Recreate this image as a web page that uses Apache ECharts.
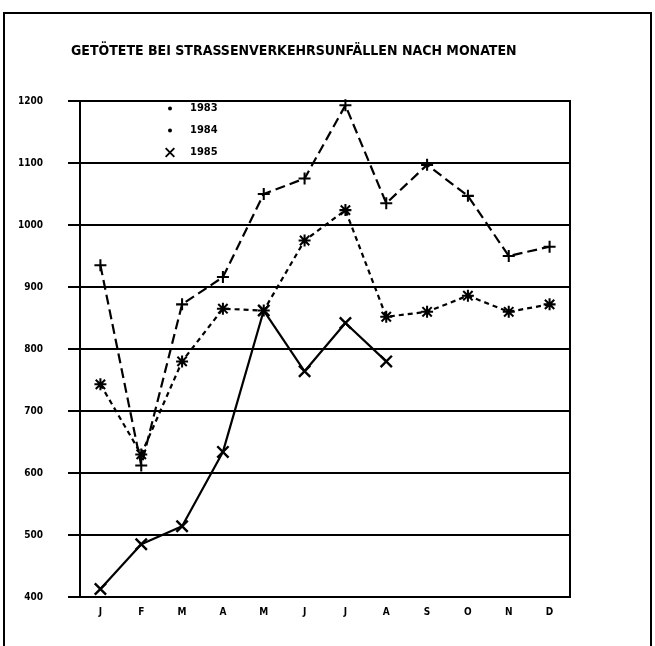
<!DOCTYPE html>
<html>
<head>
<meta charset="utf-8">
<script src="https://cdn.jsdelivr.net/npm/echarts@6/dist/echarts.min.js"></script>
<style>
  html, body { margin: 0; padding: 0; background: #fff; }
  #chart { width: 655px; height: 646px; }
</style>
</head>
<body>
<div id="chart"></div>
<script>
const months = ["J", "F", "M", "A", "M", "J", "J", "A", "S", "O", "N", "D"];
const yTicks = [400, 500, 600, 700, 800, 900, 1000, 1100, 1200];

// values
const y1983 = [935, 612, 872, 916, 1050, 1075, 1193, 1035, 1097, 1047, 950, 965];
const y1984 = [743, 630, 780, 865, 862, 975, 1024, 852, 860, 886, 860, 872];
const y1985 = [413, 485, 514, 634, 862, 764, 842, 780, null, null, null, null];

const plusPath = "path://M8.3,0H11.7V20H8.3Z M0,8.3H20V11.7H0Z";
const crossPath = "path://M0.8,3.2L3.2,0.8L19.2,16.8L16.8,19.2Z M16.8,0.8L19.2,3.2L3.2,19.2L0.8,16.8Z";
const starPath = "path://M8.3,0H11.7V20H8.3Z M0,8.3H20V11.7H0Z M1,3.4L3.4,1L19,16.6L16.6,19Z M16.6,1L19,3.4L3.4,19L1,16.6Z";
// small dot kept small inside a full size box
const dotPath = "path://M0,0L0.01,0L0,0.01Z M10,10L9.99,10L10,9.99Z M5,3A2,2 0 1 1 5,7A2,2 0 1 1 5,3Z";

const font = "'DejaVu Sans Condensed', 'DejaVu Sans', sans-serif";

const myChart = echarts.init(document.getElementById("chart"));

const option = {
  backgroundColor: "#fff",
  animation: false,
  title: {
    text: "GETÖTETE BEI STRASSENVERKEHRSUNFÄLLEN NACH MONATEN",
    left: 66,
    top: 39,
    textStyle: { fontFamily: font, fontWeight: "bold", fontSize: 14, color: "#000" }
  },
  legend: {
    orient: "vertical",
    left: 160,
    top: 98,
    itemGap: 11,
    itemWidth: 10,
    itemHeight: 10,
    textStyle: { fontFamily: font, fontWeight: "bold", fontSize: 11, color: "#000", padding: [0, 0, 0, 10] },
    data: [
      { name: "1983", icon: dotPath },
      { name: "1984", icon: dotPath },
      { name: "1985", icon: crossPath }
    ]
  },
  graphic: [
    {
      type: "rect",
      shape: { x: 4, y: 13, width: 647, height: 700 },
      style: { fill: "none", stroke: "#000", lineWidth: 2 },
      silent: true
    }
  ],
  grid: {
    left: 80,
    right: 85,
    top: 101,
    bottom: 49,
    show: true,
    borderColor: "#000",
    borderWidth: 2,
    backgroundColor: "transparent"
  },
  xAxis: {
    type: "category",
    data: months,
    boundaryGap: true,
    axisLine: { lineStyle: { color: "#000", width: 2 } },
    axisTick: { alignWithLabel: true, length: 7, lineStyle: { color: "#000", width: 2 } },
    axisLabel: { fontFamily: font, fontWeight: "bold", fontSize: 10, color: "#000", margin: 10 }
  },
  yAxis: {
    type: "value",
    min: 400,
    max: 1200,
    interval: 100,
    axisLine: { show: true, lineStyle: { color: "#000", width: 2 } },
    axisTick: { show: true, length: 12, lineStyle: { color: "#000", width: 2 } },
    axisLabel: {
      fontFamily: font, fontWeight: "bold", fontSize: 10, color: "#000", margin: 37,
      formatter: (v) => (yTicks.includes(v) ? String(v) : "")
    },
    splitLine: { show: true, lineStyle: { color: "#000", width: 2 } }
  },
  series: [
    {
      name: "1983",
      type: "line",
      data: y1983,
      symbol: plusPath,
      symbolSize: 12,
      itemStyle: { color: "#000", borderWidth: 0 },
      lineStyle: { color: "#000", width: 2.2, type: [10, 5] }
    },
    {
      name: "1984",
      type: "line",
      data: y1984,
      symbol: starPath,
      symbolSize: 12,
      itemStyle: { color: "#000", borderWidth: 0 },
      lineStyle: { color: "#000", width: 2.2, type: [5, 4] }
    },
    {
      name: "1985",
      type: "line",
      data: y1985,
      symbol: crossPath,
      symbolSize: 13,
      itemStyle: { color: "#000", borderWidth: 0 },
      lineStyle: { color: "#000", width: 2.2, type: "solid" }
    }
  ]
};

myChart.setOption(option);
</script>
</body>
</html>
